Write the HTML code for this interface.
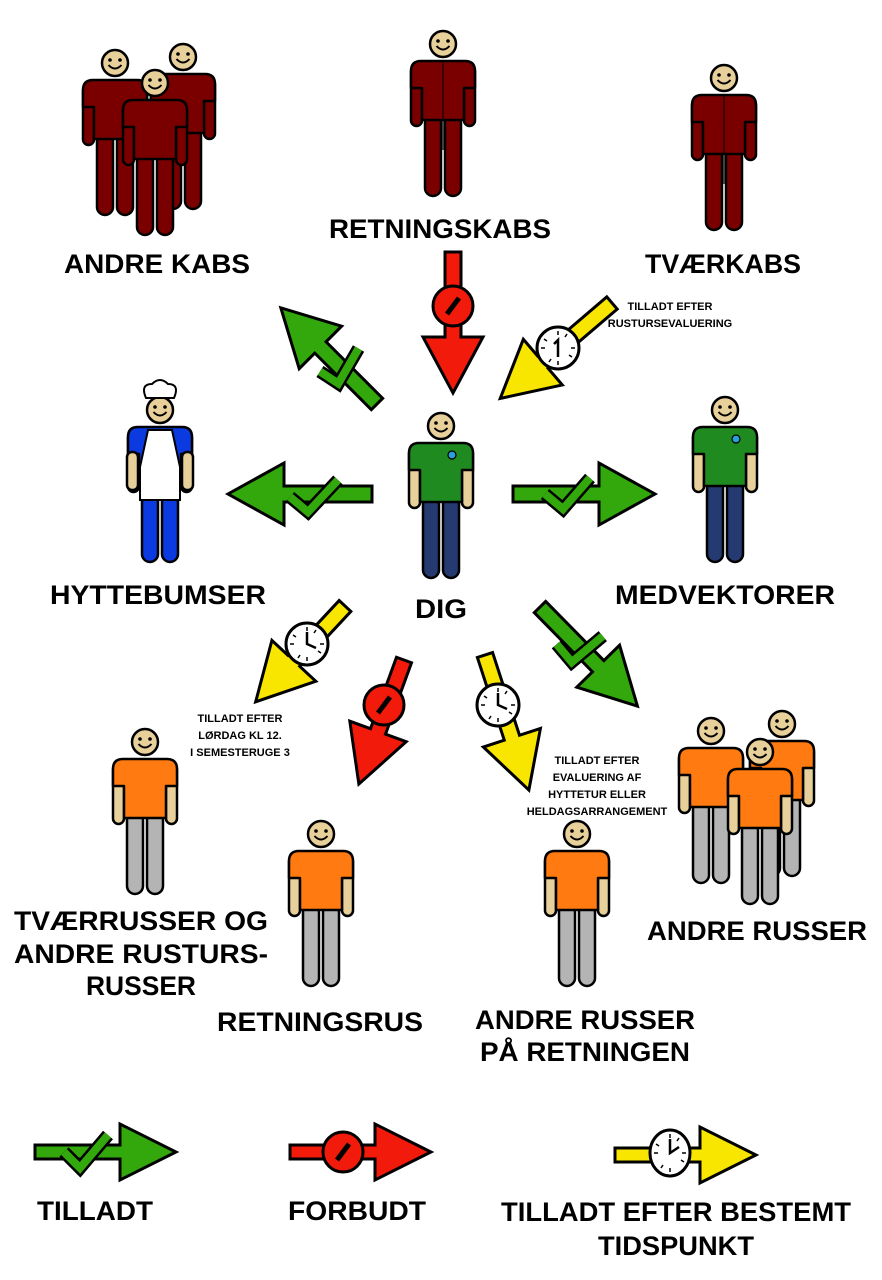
<!DOCTYPE html>
<html><head><meta charset="utf-8"><style>
html,body{margin:0;padding:0;background:#fff}
svg{display:block}
text{font-family:"Liberation Sans",sans-serif;font-weight:bold;fill:#000}
</style></head><body>
<svg width="882" height="1280" viewBox="0 0 882 1280" xmlns="http://www.w3.org/2000/svg">
<defs>
<symbol id="p" overflow="visible">
  <g stroke="#000" stroke-width="2.5" stroke-linejoin="round">
    <rect x="-32" y="36" width="11" height="60" rx="5.5" fill="var(--arm)"/>
    <rect x="21" y="36" width="11" height="60" rx="5.5" fill="var(--arm)"/>
    <rect x="-18" y="84" width="16" height="82" rx="8" fill="var(--pants)"/>
    <rect x="2" y="84" width="16" height="82" rx="8" fill="var(--pants)"/>
    <path d="M-32 58 V41 Q-32 31 -22 31 H22 Q32 31 32 41 V58 H21 V90 H-21 V58 Z" fill="var(--shirt)"/>
    <circle cx="0" cy="14" r="13" fill="#e8d09a"/>
  </g>
  <circle cx="-5" cy="11" r="1.8"/><circle cx="5" cy="11" r="1.8"/>
  <path d="M-6.5 16 Q0 23 6.5 16" fill="none" stroke="#000" stroke-width="2"/>
</symbol>
</defs>

<g style="--shirt:#7a0000;--pants:#7a0000;--arm:#7a0000">
  <use href="#p" x="115" y="49"/>
  <use href="#p" x="183" y="43"/>
  <use href="#p" x="155" y="69"/>
  <use href="#p" x="443" y="30"/>
  <use href="#p" x="724" y="64"/>
</g>
<line x1="443" y1="62" x2="443" y2="150" stroke="#000" stroke-width="1"/>
<line x1="724" y1="96" x2="724" y2="184" stroke="#000" stroke-width="1"/>

<g style="--shirt:#0b3be0;--pants:#0b3be0;--arm:#0b3be0">
  <use href="#p" x="160" y="396"/>
</g>
<rect x="127" y="452" width="11" height="38" rx="5" fill="#e8d09a" stroke="#000" stroke-width="2.5"/>
<rect x="182" y="452" width="11" height="38" rx="5" fill="#e8d09a" stroke="#000" stroke-width="2.5"/>
<path d="M148 430 H172 L180 467 V500 H140 V467 Z" fill="#fff" stroke="#000" stroke-width="2"/>
<path d="M146 398 Q140 384 152 384 Q160 376 168 384 Q180 384 174 398 Z" fill="#fff" stroke="#000" stroke-width="2"/>

<g style="--shirt:#1f8a1f;--pants:#263a72;--arm:#e8d09a">
  <use href="#p" x="441" y="412"/>
  <use href="#p" x="725" y="396"/>
</g>
<circle cx="452" cy="455" r="4" fill="#29a0dc" stroke="#000" stroke-width="1.2"/>
<circle cx="736" cy="439" r="4" fill="#29a0dc" stroke="#000" stroke-width="1.2"/>

<g style="--shirt:#ff7a10;--pants:#b4b4b4;--arm:#e8d09a">
  <use href="#p" x="145" y="728"/>
  <use href="#p" x="321" y="820"/>
  <use href="#p" x="577" y="820"/>
  <use href="#p" x="711" y="717"/>
  <use href="#p" x="782" y="710"/>
  <use href="#p" x="760" y="738"/>
</g>

<g stroke="#000" stroke-width="3" stroke-linejoin="miter">
  <g transform="translate(377,404) rotate(-135)"><polygon points="0,-8 80,-8 80,-30 136,0 80,30 80,8 0,8" fill="#33a80c"/></g>
  <g transform="translate(453,252) rotate(90)"><polygon points="0,-8 85,-8 85,-30 141,0 85,30 85,8 0,8" fill="#f21a0a"/></g>
  <g transform="translate(612,303) rotate(139.5)"><polygon points="0,-8 91,-8 91,-30 147,0 91,30 91,8 0,8" fill="#f8e600"/></g>
  <g transform="translate(372,494) rotate(180)"><polygon points="0,-8 88,-8 88,-31 144,0 88,31 88,8 0,8" fill="#33a80c"/></g>
  <g transform="translate(513,494)"><polygon points="0,-8 86,-8 86,-31 142,0 86,31 86,8 0,8" fill="#33a80c"/></g>
  <g transform="translate(345,606) rotate(133)"><polygon points="0,-8 75,-8 75,-30 131,0 75,30 75,8 0,8" fill="#f8e600"/></g>
  <g transform="translate(404,660) rotate(110)"><polygon points="0,-8 76,-8 76,-30 132,0 76,30 76,8 0,8" fill="#f21a0a"/></g>
  <g transform="translate(485,655) rotate(72)"><polygon points="0,-8 87,-8 87,-30 142,0 87,30 87,8 0,8" fill="#f8e600"/></g>
  <g transform="translate(540,607) rotate(45.5)"><polygon points="0,-8 83,-8 83,-30 139,0 83,30 83,8 0,8" fill="#33a80c"/></g>
  <polygon points="35,1145 120,1145 120,1124 176,1152 120,1180 120,1159 35,1159" fill="#33a80c"/>
  <polygon points="290,1145 375,1145 375,1124 431,1152 375,1180 375,1159 290,1159" fill="#f21a0a"/>
  <polygon points="615,1148 700,1148 700,1127 756,1155 700,1183 700,1162 615,1162" fill="#f8e600"/>
</g>

<g fill="none" stroke-linecap="butt" stroke-linejoin="miter">
  <path d="M320 368 L336 383 L362 352" stroke="#000" stroke-width="13" transform="rotate(-10 340 370)"/>
  <path d="M320 368 L336 383 L362 352" stroke="#33a80c" stroke-width="8" transform="rotate(-10 340 370)"/>
  <path d="M290 497 L308 512 L338 480" stroke="#000" stroke-width="13"/>
  <path d="M290 497 L308 512 L338 480" stroke="#33a80c" stroke-width="8"/>
  <path d="M545 494 L563 509 L590 478" stroke="#000" stroke-width="13"/>
  <path d="M545 494 L563 509 L590 478" stroke="#33a80c" stroke-width="8"/>
  <path d="M556 648 L574 663 L600 632" stroke="#000" stroke-width="13" transform="rotate(10 578 650)"/>
  <path d="M556 648 L574 663 L600 632" stroke="#33a80c" stroke-width="8" transform="rotate(10 578 650)"/>
  <path d="M64 1152 L80 1168 L108 1135" stroke="#000" stroke-width="13"/>
  <path d="M64 1152 L80 1168 L108 1135" stroke="#33a80c" stroke-width="8"/>
</g>

<g stroke="#000" stroke-width="3">
  <circle cx="453" cy="306" r="20" fill="#f21a0a"/>
  <line x1="447" y1="314" x2="459" y2="298" stroke-width="5"/>
  <circle cx="384" cy="705" r="20" fill="#f21a0a"/>
  <line x1="378" y1="713" x2="390" y2="697" stroke-width="5"/>
  <circle cx="343" cy="1152" r="20" fill="#f21a0a"/>
  <line x1="337" y1="1160" x2="349" y2="1144" stroke-width="5"/>
</g>

<g stroke="#000">
  <g transform="translate(558,348)"><circle r="21" fill="#fff" stroke-width="3"/><g stroke-width="1.5"><line x1="0" y1="-17" x2="0" y2="-13"/><line x1="0" y1="17" x2="0" y2="13"/><line x1="-17" y1="0" x2="-13" y2="0"/><line x1="17" y1="0" x2="13" y2="0"/><line x1="9" y1="-14" x2="7" y2="-11"/><line x1="-9" y1="14" x2="-7" y2="11"/><line x1="-14" y1="-9" x2="-11" y2="-7"/><line x1="14" y1="9" x2="11" y2="7"/></g><path d="M-4 -4 L0 -8 L0 9" fill="none" stroke-width="2.5"/></g>
  <g transform="translate(307,644)"><circle r="21" fill="#fff" stroke-width="3"/><g stroke-width="1.5"><line x1="0" y1="-17" x2="0" y2="-13"/><line x1="0" y1="17" x2="0" y2="13"/><line x1="-17" y1="0" x2="-13" y2="0"/><line x1="17" y1="0" x2="13" y2="0"/><line x1="9" y1="-14" x2="7" y2="-11"/><line x1="-9" y1="14" x2="-7" y2="11"/><line x1="-14" y1="-9" x2="-11" y2="-7"/><line x1="14" y1="9" x2="11" y2="7"/></g><path d="M0 -12 L0 0 L9 4" fill="none" stroke-width="2.5"/></g>
  <g transform="translate(498,705)"><circle r="21" fill="#fff" stroke-width="3"/><g stroke-width="1.5"><line x1="0" y1="-17" x2="0" y2="-13"/><line x1="0" y1="17" x2="0" y2="13"/><line x1="-17" y1="0" x2="-13" y2="0"/><line x1="17" y1="0" x2="13" y2="0"/><line x1="9" y1="-14" x2="7" y2="-11"/><line x1="-9" y1="14" x2="-7" y2="11"/><line x1="-14" y1="-9" x2="-11" y2="-7"/><line x1="14" y1="9" x2="11" y2="7"/></g><path d="M0 -12 L0 0 L9 4" fill="none" stroke-width="2.5"/></g>
  <g transform="translate(670,1153)"><ellipse rx="20" ry="23" fill="#fff" stroke-width="3"/><g stroke-width="1.5"><line x1="0" y1="-19" x2="0" y2="-15"/><line x1="0" y1="19" x2="0" y2="15"/><line x1="-16" y1="0" x2="-12" y2="0"/><line x1="16" y1="0" x2="12" y2="0"/><line x1="9" y1="-15" x2="7" y2="-12"/><line x1="-9" y1="15" x2="-7" y2="12"/><line x1="-14" y1="-9" x2="-11" y2="-7"/><line x1="14" y1="9" x2="11" y2="7"/></g><path d="M0 -14 L0 0 L9 -6" fill="none" stroke-width="2.5"/></g>
</g>

<g font-size="27" text-anchor="middle">
  <text x="157" y="273" textLength="186" lengthAdjust="spacingAndGlyphs">ANDRE KABS</text>
  <text x="440" y="238" textLength="222" lengthAdjust="spacingAndGlyphs">RETNINGSKABS</text>
  <text x="723" y="273" textLength="156" lengthAdjust="spacingAndGlyphs">TVÆRKABS</text>
  <text x="158" y="604" textLength="216" lengthAdjust="spacingAndGlyphs">HYTTEBUMSER</text>
  <text x="441" y="618" textLength="52" lengthAdjust="spacingAndGlyphs">DIG</text>
  <text x="725" y="604" textLength="220" lengthAdjust="spacingAndGlyphs">MEDVEKTORER</text>
  <text x="757" y="940" textLength="220" lengthAdjust="spacingAndGlyphs">ANDRE RUSSER</text>
  <text x="141" y="930" textLength="254" lengthAdjust="spacingAndGlyphs">TVÆRRUSSER OG</text>
  <text x="141" y="963" textLength="254" lengthAdjust="spacingAndGlyphs">ANDRE RUSTURS-</text>
  <text x="141" y="995" textLength="110" lengthAdjust="spacingAndGlyphs">RUSSER</text>
  <text x="320" y="1031" textLength="206" lengthAdjust="spacingAndGlyphs">RETNINGSRUS</text>
  <text x="585" y="1029" textLength="220" lengthAdjust="spacingAndGlyphs">ANDRE RUSSER</text>
  <text x="585" y="1061" textLength="210" lengthAdjust="spacingAndGlyphs">PÅ RETNINGEN</text>
  <text x="95" y="1220" textLength="116" lengthAdjust="spacingAndGlyphs">TILLADT</text>
  <text x="357" y="1220" textLength="138" lengthAdjust="spacingAndGlyphs">FORBUDT</text>
  <text x="676" y="1221" textLength="350" lengthAdjust="spacingAndGlyphs">TILLADT EFTER BESTEMT</text>
  <text x="676" y="1255" textLength="156" lengthAdjust="spacingAndGlyphs">TIDSPUNKT</text>
</g>
<g font-size="11" text-anchor="middle">
  <text x="670" y="310">TILLADT EFTER</text>
  <text x="670" y="327">RUSTURSEVALUERING</text>
  <text x="240" y="722">TILLADT EFTER</text>
  <text x="240" y="739">LØRDAG KL 12.</text>
  <text x="240" y="756">I SEMESTERUGE 3</text>
  <text x="597" y="764">TILLADT EFTER</text>
  <text x="597" y="781">EVALUERING AF</text>
  <text x="597" y="798">HYTTETUR ELLER</text>
  <text x="597" y="815">HELDAGSARRANGEMENT</text>
</g>
</svg>
</body></html>
